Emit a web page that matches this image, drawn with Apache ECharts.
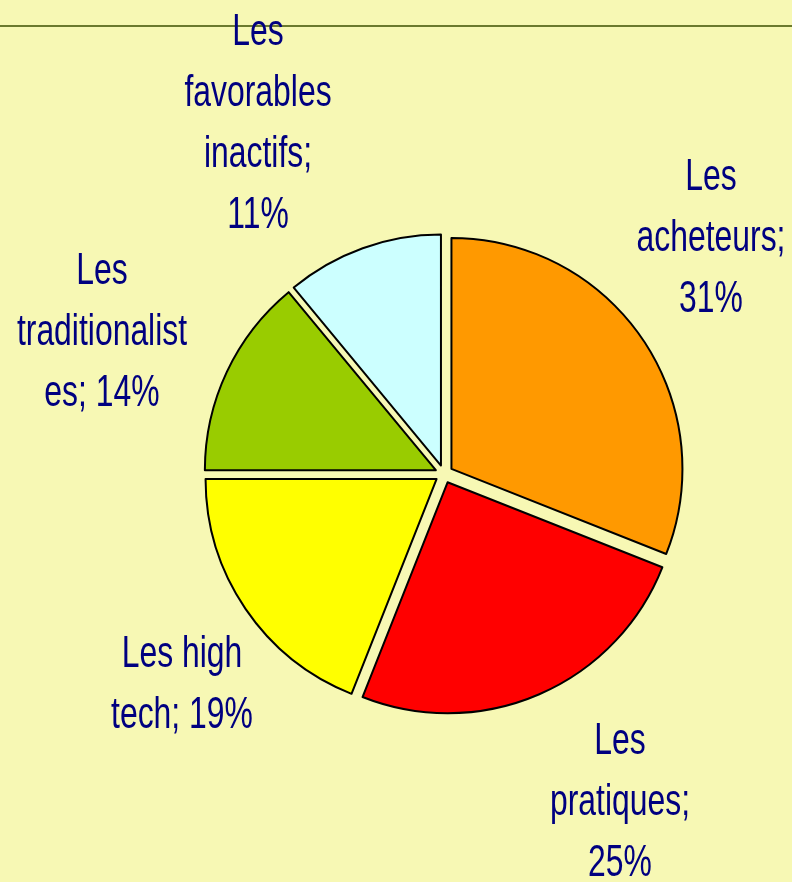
<!DOCTYPE html>
<html>
<head>
<meta charset="utf-8">
<script src="https://cdn.jsdelivr.net/npm/echarts@6/dist/echarts.min.js"></script>
<style>
html,body{margin:0;padding:0;background:#f7f8b4;}
#chart{width:792px;height:882px;}
</style>
</head>
<body>
<div id="chart"></div>
<script>
// Data
const categories = ["Les acheteurs", "Les pratiques", "Les high tech", "Les traditionalistes", "Les favorables inactifs"];
const values = [31, 25, 19, 14, 11];
const labelTexts = [
  "Les\nacheteurs;\n31%",
  "Les\npratiques;\n25%",
  "Les high\ntech; 19%",
  "Les\ntraditionalist\nes; 14%",
  "Les\nfavorables\ninactifs;\n11%"
];

// Styles / layout (kept separate from the data)
const colors = ["#ff9900", "#ff0000", "#ffff00", "#99cc00", "#ccffff"];
const labelCenters = [[711, 239], [620, 803], [182, 685], [102, 333], [258, 124]];

const chart = echarts.init(document.getElementById('chart'), null, {renderer: 'canvas'});
const labelGraphics = labelTexts.map((t, i) => ({
  type: 'text', z: 100,
  x: labelCenters[i][0], y: labelCenters[i][1],
  scaleX: 0.725,
  style: {
    text: t, x: 0, y: 0,
    align: 'center', verticalAlign: 'middle',
    font: '44px "Liberation Sans", Arial, sans-serif',
    lineHeight: 61,
    fill: '#000080'
  }
}));
chart.setOption({
  backgroundColor: '#f7f8b4',
  animation: false,
  graphic: [{
    type: 'line', z: 0,
    shape: {x1: 0, y1: 26, x2: 792, y2: 26},
    style: {stroke: '#6b7a2e', lineWidth: 2}
  }].concat(labelGraphics),
  series: [{
    type: 'pie',
    center: [444, 474],
    radius: 231,
    startAngle: 90,
    clockwise: true,
    selectedMode: 'multiple',
    selectedOffset: 9,
    emphasis: {disabled: true},
    itemStyle: {borderColor: '#000', borderWidth: 2},
    label: {show: false},
    labelLine: {show: false},
    data: categories.map((c, i) => ({
      name: c, value: values[i], selected: true,
      itemStyle: {color: colors[i]}
    }))
  }]
});
</script>
</body>
</html>
